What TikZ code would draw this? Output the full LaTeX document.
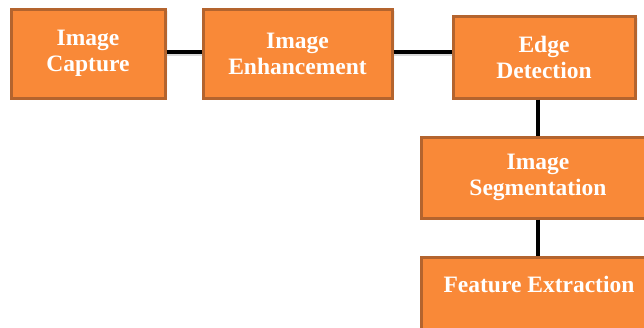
\documentclass[tikz,border=0pt]{standalone}
\usepackage{fontspec}
\setmainfont{Liberation Serif}
\definecolor{boxfill}{RGB}{249,137,56}
\definecolor{boxline}{RGB}{180,100,46}
\definecolor{shade}{RGB}{215,215,215}
\tikzset{
  x=1pt, y=-1pt,
  stepbox/.style={draw=boxline, line width=3pt, fill=boxfill, inner sep=0pt,
    text=white, font=\fontsize{23.5}{26}\selectfont\bfseries, align=center},
  link/.style={line width=3.6pt, black},
}
\begin{document}
\begin{tikzpicture}
\useasboundingbox (0,0) rectangle (644,327);
\begin{scope}
\clip (0,0) rectangle (644,327);
% shadows
\fill[shade] (13,11) rectangle (167,100);
\fill[shade] (205,11) rectangle (394,100);
\fill[shade] (455,18) rectangle (637,100);
\fill[shade] (423,139) rectangle (660,220);
\fill[shade] (423,259) rectangle (660,340);
\node[stepbox, minimum width=154, minimum height=89] (cap) at (88,53.5) {Image\\Capture};
\node[stepbox, minimum width=189, minimum height=89] (enh) at (297.5,53.5) {Image\\Enhancement};
\node[stepbox, minimum width=182, minimum height=82] (edge) at (544,57) {Edge\\Detection};
\node[stepbox, minimum width=234, minimum height=81] (seg) at (538,177.5) {Image\\Segmentation};
\node[stepbox, minimum width=234, minimum height=80] (feat) at (538,297) {};
\node[text=white, font=\fontsize{23.5}{26}\selectfont\bfseries, anchor=base] (feattext) at (539,292) {Feature Extraction};
\end{scope}
\draw[gray!30, line width=3.6pt] (cap.east |- 0,54.5) -- (enh.west |- 0,54.5);
\draw[link] (cap.east |- 0,52) -- (enh.west |- 0,52);
\draw[gray!30, line width=3.6pt] (enh.east |- 0,54.5) -- (edge.west |- 0,54.5);
\draw[link] (enh.east |- 0,52) -- (edge.west |- 0,52);
\draw[link] (edge.south -| 538,0) -- (seg.north -| 538,0);
\draw[link] (seg.south -| 538,0) -- (feat.north -| 538,0);
\end{tikzpicture}
\end{document}
